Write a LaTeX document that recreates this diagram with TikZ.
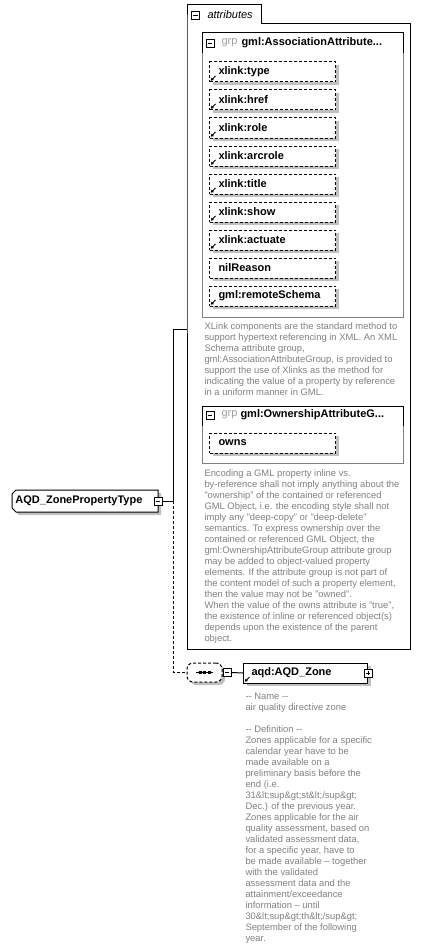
\documentclass[tikz,border=0pt]{standalone}
\usepackage{fontspec}
\setmainfont{Liberation Sans}
\usetikzlibrary{arrows.meta,shadows}
\definecolor{shd}{RGB}{192,192,192}
\definecolor{desc}{RGB}{128,128,128}
\definecolor{grpc}{RGB}{160,160,160}
\definecolor{gbord}{RGB}{128,128,128}
\newcommand\reficon[1]{\draw[line width=0.9pt,-{Triangle[length=2.6pt,width=3pt]}] ([xshift=6.5pt,yshift=6.5pt]#1.south west) -- ([xshift=1.8pt,yshift=1.8pt]#1.south west);}
\begin{document}
\begin{tikzpicture}[x=1pt,y=-1pt,line width=1pt,
  every node/.style={inner sep=0pt},
  dsh/.style={dash pattern=on 3pt off 2pt},
  minusbtn/.style={draw, fill=white, minimum size=8pt, line width=0.8pt,
    path picture={\draw[line width=0.8pt] ([xshift=1.6pt]path picture bounding box.west) -- ([xshift=-1.6pt]path picture bounding box.east);}},
  plusbtn/.style={draw, fill=white, minimum size=8pt, line width=0.8pt,
    path picture={\draw[line width=0.8pt] ([xshift=1.6pt]path picture bounding box.west) -- ([xshift=-1.6pt]path picture bounding box.east);
                  \draw[line width=0.8pt] ([yshift=1.6pt]path picture bounding box.south) -- ([yshift=-1.6pt]path picture bounding box.north);}},
  shadowed/.style={drop shadow={shadow xshift=3pt, shadow yshift=-3pt, fill=shd, opacity=1, draw=none}},
  bold/.style={font=\fontsize{11}{13}\selectfont\bfseries},
  attr/.style={draw, dsh, fill=white, minimum width=126pt, minimum height=20pt,
    text width=108pt, inner xsep=9pt, align=left, anchor=west, bold, shadowed},
  desctext/.style={anchor=north west, align=left, text=desc, font=\fontsize{9.4}{11}\selectfont},
  hdr/.style={anchor=west, font=\fontsize{11}{13}\selectfont}
]
\useasboundingbox (0,0) rectangle (421,947);

% ---- attributes container with tab
\draw (187,24) -- (187,5) -- (261,5) -- (261,24) -- (410,24) -- (410,649) -- (187,649) -- cycle;
\node[minusbtn] (tabbtn) at (195.5,15) {};
\node[hdr, font=\fontsize{11}{13}\selectfont\itshape] (tabtxt) at (207,15) {attributes};

% ---- group 1
\draw[gbord] (202,53) -- (202,317) -- (403,317) -- (403,53);
\draw (202,53) -- (202,33) -- (403,33) -- (403,53);
\node[minusbtn] (g1btn) at (210,43) {};
\node[hdr, text=grpc] (g1grp) at (221,43) {grp};
\node[hdr, bold] (g1name) at (241,43) {gml:AssociationAttribute...};

\node[attr] (a1) at (209,72) {xlink:type};
\node[attr] (a2) at (209,100) {xlink:href};
\node[attr] (a3) at (209,128) {xlink:role};
\node[attr] (a4) at (209,156) {xlink:arcrole};
\node[attr] (a5) at (209,184) {xlink:title};
\node[attr] (a6) at (209,212) {xlink:show};
\node[attr] (a7) at (209,240) {xlink:actuate};
\node[attr] (a8) at (209,268) {nilReason};
\node[attr] (a9) at (209,296) {gml:remoteSchema};
\foreach \n in {a1,a2,a3,a4,a5,a6,a7,a9} {\reficon{\n}}

\node[desctext] (d1) at (204,322) {XLink components are the standard method to\\
support hypertext referencing in XML. An XML\\
Schema attribute group,\\
gml:AssociationAttributeGroup, is provided to\\
support the use of Xlinks as the method for\\
indicating the value of a property by reference\\
in a uniform manner in GML.};

% ---- group 2
\draw[gbord] (202,426) -- (202,463) -- (403,463) -- (403,426);
\draw (202,426) -- (202,406) -- (403,406) -- (403,426);
\node[minusbtn] (g2btn) at (210,415) {};
\node[hdr, text=grpc] (g2grp) at (221,415) {grp};
\node[hdr, bold] (g2name) at (240,415) {gml:OwnershipAttributeG...};
\node[attr] (owns) at (209,443) {owns};

\node[desctext] (d2) at (204,469) {Encoding a GML property inline vs.\\
by-reference shall not imply anything about the\\
"ownership" of the contained or referenced\\
GML Object, i.e. the encoding style shall not\\
imply any "deep-copy" or "deep-delete"\\
semantics. To express ownership over the\\
contained or referenced GML Object, the\\
gml:OwnershipAttributeGroup attribute group\\
may be added to object-valued property\\
elements. If the attribute group is not part of\\
the content model of such a property element,\\
then the value may not be "owned".\\
When the value of the owns attribute is "true",\\
the existence of inline or referenced object(s)\\
depends upon the existence of the parent\\
object.};

% ---- complex type box
\begin{scope}[shift={(3,3)}]
\fill[shd] (16,490) -- (158,490) -- (158,512) -- (16,512) -- (12,508) -- (12,494) -- cycle;
\end{scope}
\filldraw[fill=white] (16,490) -- (158,490) -- (158,512) -- (16,512) -- (12,508) -- (12,494) -- cycle;
\node[hdr, bold] (ptype) at (15,501) {AQD\_ZonePropertyType};
\node[minusbtn] (ptbtn) at (158,501) {};

\coordinate (jn) at (173,501);
\coordinate (attrIn) at (187,329);
\draw (ptbtn.east) -- (jn) |- (attrIn);

% ---- sequence compositor
\node[draw, dsh, fill=white, rounded corners=6pt, minimum width=35pt, minimum height=19pt, shadowed] (seq) at (204.5,672.5) {};
\draw (seq.center) ++(-8.5,0) coordinate (sqa) -- ++(17,0) coordinate (sqb);
\foreach \dx in {-4.5,0,4.5} {\fill ([xshift=\dx pt]seq.center) ++(-1.5,-1.5) rectangle ++(3,3);}
\node[minusbtn] (seqbtn) at (227,672.5) {};
\draw[dsh] (jn) |- (seq.west);

% ---- element
\node[draw, fill=white, minimum width=124pt, minimum height=20pt, text width=108pt, inner xsep=8pt, align=left, anchor=west, bold, shadowed] (zone) at (243,673) {aqd:AQD\_Zone};
\reficon{zone}
\node[plusbtn] (zonebtn) at (zone.east) {};
\draw (seqbtn.east) -- (zone.west);

\node[desctext] (d3) at (245,693) {-{}- Name -{}-\\
air quality directive zone\\
\mbox{}\\
-{}- Definition -{}-\\
Zones applicable for a specific\\
calendar year have to be\\
made available on a\\
preliminary basis before the\\
end (i.e.\\
31\&lt;sup\&gt;st\&lt;/sup\&gt;\\
Dec.) of the previous year.\\
Zones applicable for the air\\
quality assessment, based on\\
validated assessment data,\\
for a specific year, have to\\
be made available – together\\
with the validated\\
assessment data and the\\
attainment/exceedance\\
information – until\\
30\&lt;sup\&gt;th\&lt;/sup\&gt;\\
September of the following\\
year.};
\end{tikzpicture}
\end{document}
